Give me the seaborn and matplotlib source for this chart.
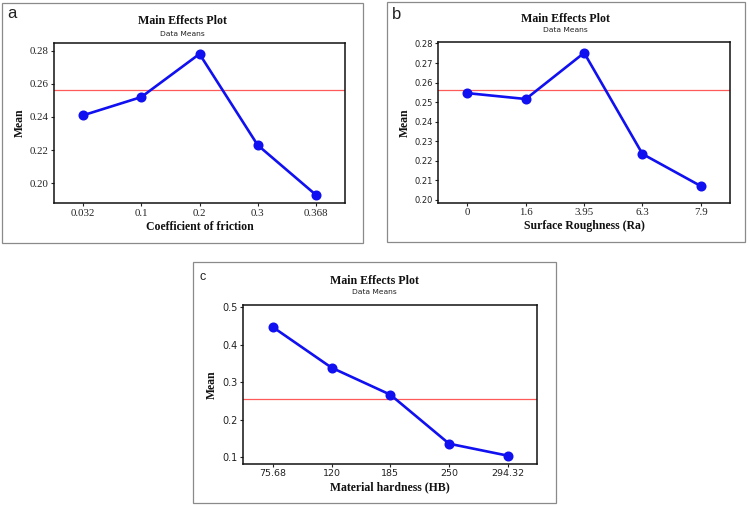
import matplotlib
matplotlib.use("Agg")
import matplotlib.pyplot as plt
import seaborn as sns
import pandas as pd
from matplotlib.patches import Rectangle

sns.set_theme(style="white")
plt.rcParams['font.family'] = ['DejaVu Sans']

# ---- data ----
friction_levels = ["0.032", "0.1", "0.2", "0.3", "0.368"]
friction_means = [0.241, 0.252, 0.278, 0.223, 0.193]
roughness_levels = ["0", "1.6", "3.95", "6.3", "7.9"]
roughness_means = [0.2546, 0.2516, 0.2752, 0.2235, 0.2071]
hardness_levels = ["75.68", "120", "185", "250", "294.32"]
hardness_means = [0.4474, 0.3388, 0.2666, 0.1356, 0.1036]
grand_mean = [0.2561, 0.2561, 0.2561]

xlabels = ["Coefficient of friction", "Surface Roughness (Ra)", "Material hardness (HB)"]
panel_letters = ["a", "b", "c"]
a_yticks = [0.20, 0.22, 0.24, 0.26, 0.28]
b_yticks = [0.20, 0.21, 0.22, 0.23, 0.24, 0.25, 0.26, 0.27, 0.28]
c_yticks = [0.1, 0.2, 0.3, 0.4, 0.5]

W, H = 750, 505
fig = plt.figure(figsize=(7.5, 5.05), dpi=100)

def fx(px):
    return px / W

def fy(py):
    return 1 - py / H

serif = "Liberation Serif"
sans = "DejaVu Sans"

panels = [
    dict(levels=friction_levels, means=friction_means, mean=grand_mean[0],
         ax=(54, 43, 345, 203), box=(2, 3, 363, 243), ylim=(0.1881, 0.2846),
         yticks=a_yticks, yfmt="{:.2f}", yfont=serif, ysize=7.8, xfont=serif, xsize=7.8,
         letter_pos=(7, 18), letter_size=12, title_y=21.5, sub_y=33.5,
         ylab_x=19.5, xlab_y=227.5, xtick_y=211.5),
    dict(levels=roughness_levels, means=roughness_means, mean=grand_mean[1],
         ax=(438.3, 41.7, 730, 202.7), box=(386.5, 2, 745, 242), ylim=(0.1986, 0.2809),
         yticks=b_yticks, yfmt="{:.2f}", yfont=sans, ysize=6.0, xfont=serif, xsize=7.8,
         letter_pos=(392, 19), letter_size=12, title_y=19, sub_y=29.5,
         ylab_x=405, xlab_y=226.5, xtick_y=212),
    dict(levels=hardness_levels, means=hardness_means, mean=grand_mean[2],
         ax=(243.3, 304.7, 537.3, 463.7), box=(193, 262, 556, 503), ylim=(0.0822, 0.507),
         yticks=c_yticks, yfmt="{:.1f}", yfont=sans, ysize=7.0, xfont=sans, xsize=6.8,
         letter_pos=(200, 280), letter_size=9, title_y=280.5, sub_y=292.5,
         ylab_x=211.5, xlab_y=487, xtick_y=473),
]

for i, p in enumerate(panels):
    l, t, r, b = p["ax"]
    ax = fig.add_axes([fx(l), fy(b), fx(r) - fx(l), (b - t) / H])
    df = pd.DataFrame({"level": p["levels"], "mean": p["means"]})
    sns.pointplot(data=df, x="level", y="mean", ax=ax, color="#1010f0",
                  markers="o", linestyles="-", errorbar=None,
                  markersize=5.8, linewidth=1.9)
    ax.axhline(p["mean"], color="#ff5a5a", lw=0.9, zorder=1)
    ax.set_xlim(-0.5, 4.5)
    ax.set_ylim(*p["ylim"])
    ax.set_yticks(p["yticks"])
    ax.set_yticklabels([p["yfmt"].format(v) for v in p["yticks"]],
                       fontfamily=p["yfont"], fontsize=p["ysize"], color="#222222")
    ax.set_xticks(range(len(p["levels"])))
    ax.set_xticklabels(p["levels"], fontfamily=p["xfont"], fontsize=p["xsize"], color="#222222")
    ax.tick_params(axis="both", which="both", direction="out", length=2.5, width=0.8,
                   color="#222222", bottom=True, left=True, top=False, right=False, pad=1.5)
    for s in ax.spines.values():
        s.set_color("#111111")
        s.set_linewidth(1.1)
        s.set_visible(True)
    ax.grid(False)
    ax.set_xlabel("")
    ax.set_ylabel("")
    ax.set_facecolor("white")

    # axis labels
    fig.text(fx((l + r) / 2), fy(p["xlab_y"]), xlabels[i], ha="center", va="center",
             fontfamily=serif, fontweight="bold", fontsize=8.5, color="#111111")
    fig.text(fx(p["ylab_x"]), fy((t + b) / 2), "Mean", ha="center", va="center",
             rotation=90, fontfamily=serif, fontweight="bold", fontsize=8.5, color="#111111")

    # box
    bl, bt, br, bb = p["box"]
    fig.patches.append(Rectangle((fx(bl), fy(bb)), fx(br) - fx(bl), (bb - bt) / H,
                                 transform=fig.transFigure, fill=False,
                                 edgecolor="#8a8a8a", lw=0.9))
    cx = (bl + br) / 2
    fig.text(fx(cx), fy(p["title_y"]), "Main Effects Plot", ha="center", va="center",
             fontfamily=serif, fontweight="bold", fontsize=8.6, color="#111111")
    fig.text(fx(cx), fy(p["sub_y"]), "Data Means", ha="center", va="center",
             fontfamily=sans, fontsize=5.4, color="#222222")
    lx, ly = p["letter_pos"]
    fig.text(fx(lx), fy(ly), panel_letters[i], ha="left", va="baseline",
             fontfamily="Liberation Sans", fontsize=p["letter_size"], color="#222222")

fig.savefig("out.png", dpi=100, facecolor="white")
